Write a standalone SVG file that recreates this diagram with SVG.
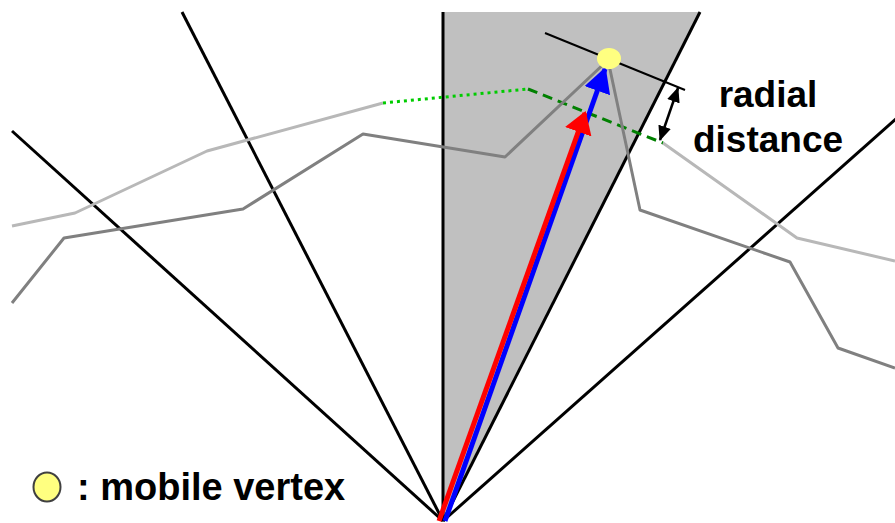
<svg xmlns="http://www.w3.org/2000/svg" width="895" height="523" viewBox="0 0 895 523">
<defs>
<style>
.ray{stroke:#000;stroke-width:3;fill:none}
.lg{stroke:#b8b8b8;stroke-width:3;fill:none;stroke-linejoin:round}
.dg{stroke:#808080;stroke-width:3;fill:none;stroke-linejoin:round}
.lbl{font-family:"Liberation Sans",Arial,sans-serif;font-weight:bold;fill:#000}
</style>
<marker id="bh" viewBox="0 0 25 27" refX="23" refY="13.5" markerWidth="25" markerHeight="27" orient="auto" markerUnits="userSpaceOnUse"><path d="M0,0 L25,13.5 L0,27 z" fill="#0000ff"/></marker>
<marker id="rh" viewBox="0 0 22 28" refX="20" refY="14" markerWidth="22" markerHeight="28" orient="auto" markerUnits="userSpaceOnUse"><path d="M0,0 L22,14 L0,28 z" fill="#ff0000"/></marker>
<marker id="kh" viewBox="0 0 15 13" refX="14" refY="6.5" markerWidth="15" markerHeight="13" orient="auto-start-reverse" markerUnits="userSpaceOnUse"><path d="M0,0 L15,6.5 L0,13 z" fill="#000"/></marker>
</defs>
<rect width="895" height="523" fill="#fff"/>
<g id="wedge"><polygon points="443,12 700,12 443,521" fill="#c0c0c0"/></g>
<g id="rays">
<line class="ray" x1="443" y1="12" x2="443" y2="521"/>
<line class="ray" x1="182" y1="12" x2="443" y2="521"/>
<line class="ray" x1="12" y1="131" x2="443" y2="521"/>
<line class="ray" x1="700" y1="12" x2="443" y2="521"/>
<line class="ray" x1="897" y1="118" x2="443" y2="521"/>
</g>
<g id="polylines">
<polyline class="lg" points="12,226 75,213 207,151 383,103"/>
<polyline class="lg" points="663,143 797,238 895,261"/>
<line x1="383" y1="103" x2="528" y2="89" stroke="#00cc00" stroke-width="3" stroke-dasharray="3,4"/>
<line x1="528" y1="89" x2="663" y2="143" stroke="#008000" stroke-width="3" stroke-dasharray="10,6"/>
<polyline class="dg" points="12,303 64,238 243,209 363,134 505,157 608,60 640,210 790,262 838,348 895,368"/>
</g>
<g id="tangent"><line x1="545" y1="33" x2="685" y2="90" stroke="#000" stroke-width="2"/></g>
<g id="connectors">
<line x1="445" y1="521" x2="605" y2="69" stroke="#0000ff" stroke-width="5" marker-end="url(#bh)"/>
<line x1="439" y1="521" x2="585" y2="113" stroke="#ff0000" stroke-width="5" marker-end="url(#rh)"/>
<line x1="678" y1="88" x2="660" y2="140" stroke="#000" stroke-width="2.5" marker-start="url(#kh)" marker-end="url(#kh)"/>
</g>
<g id="vertex"><ellipse cx="609" cy="58.5" rx="12" ry="10.5" fill="#ffff80"/></g>
<g id="label-radial">
<text class="lbl" x="768" y="107" font-size="37" text-anchor="middle">radial</text>
<text class="lbl" x="768" y="152" font-size="37" text-anchor="middle">distance</text>
</g>
<g id="legend">
<ellipse cx="47" cy="487" rx="13.5" ry="14.5" fill="#ffff80" stroke="#404040" stroke-width="2"/>
<text class="lbl" x="77" y="500" font-size="38">: mobile vertex</text>
</g>
</svg>
